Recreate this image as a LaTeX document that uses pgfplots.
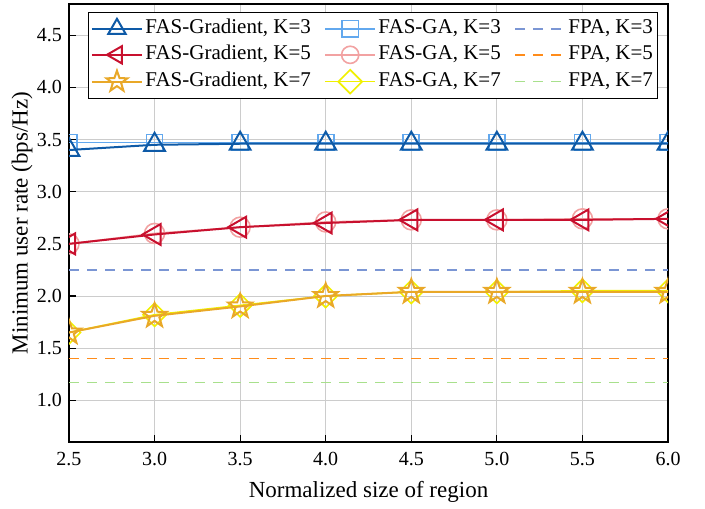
\documentclass[border=0pt]{standalone}
\usepackage{pgfplots}
\pgfplotsset{compat=1.18}
\usepackage{fontspec}
\setmainfont{Liberation Serif}
\usetikzlibrary{calc}
\definecolor{gb}{HTML}{0E5AA7}
\definecolor{gab}{HTML}{62A8EE}
\definecolor{gr}{HTML}{C8102E}
\definecolor{gar}{HTML}{F2A2A2}
\definecolor{gy}{HTML}{E9A828}
\definecolor{gay}{HTML}{F0F000}
\definecolor{fb}{HTML}{7B96D4}
\definecolor{fo}{HTML}{FF8C1A}
\definecolor{fg}{HTML}{A8E08C}
\pgfdeclareplotmark{ostar}{%
  \pgfpathmoveto{\pgfpointpolar{90}{\pgfplotmarksize}}%
  \pgfpathlineto{\pgfpointpolar{126}{0.4\pgfplotmarksize}}%
  \pgfpathlineto{\pgfpointpolar{162}{\pgfplotmarksize}}%
  \pgfpathlineto{\pgfpointpolar{198}{0.4\pgfplotmarksize}}%
  \pgfpathlineto{\pgfpointpolar{234}{\pgfplotmarksize}}%
  \pgfpathlineto{\pgfpointpolar{270}{0.4\pgfplotmarksize}}%
  \pgfpathlineto{\pgfpointpolar{306}{\pgfplotmarksize}}%
  \pgfpathlineto{\pgfpointpolar{342}{0.4\pgfplotmarksize}}%
  \pgfpathlineto{\pgfpointpolar{18}{\pgfplotmarksize}}%
  \pgfpathlineto{\pgfpointpolar{54}{0.4\pgfplotmarksize}}%
  \pgfpathclose\pgfusepathqstroke}
\begin{document}
\begin{tikzpicture}
\begin{axis}[name=ax, scale only axis, width=299.5pt, height=219pt,
  xmin=2.5, xmax=6, ymin=0.6, ymax=4.8,
  xtick={2.5,3,3.5,4,4.5,5,5.5,6},
  ytick={1,1.5,2,2.5,3,3.5,4,4.5},
  grid=major, grid style={color=black!20, line width=0.5pt},
  tick align=inside, xtick pos=bottom, ytick pos=left,
  major tick length=3.5pt,
  axis line style={line width=0.8pt},
  tick style={black, line width=0.6pt},
  clip marker paths=true,
  /pgf/number format/assume math mode=true,
  ticklabel style={font=\fontsize{10}{12}\selectfont},
  xticklabel style={yshift=-1.5pt, /pgf/number format/.cd, fixed, fixed zerofill, precision=1},
  yticklabel style={/pgf/number format/.cd, fixed, fixed zerofill, precision=1},
  xlabel={Normalized size of region},
  ylabel={Minimum user rate (bps/Hz)},
  label style={font=\fontsize{11.5}{13}\selectfont},
  xlabel style={at={(axis description cs:0.5,-0.114)}, anchor=center},
  ylabel style={at={(axis description cs:-0.0785,0.5)}, anchor=center},
  legend columns=3,
  legend style={at={(0.9833,0.981)}, anchor=north east, draw=black, line width=0.5pt,
    font=\fontsize{10.5}{12}\selectfont, column sep=0pt, row sep=2pt,
    inner xsep=1pt, inner ysep=2.5pt,
    /tikz/every even column/.append style={column sep=5.5pt},
    nodes={inner xsep=1.25pt, inner ysep=0.5pt, text height=7.5pt, text depth=2.5pt}},
  legend cell align=left,
  legend image code/.code={\draw[mark repeat=2,mark phase=2] plot coordinates {(0cm,0cm)(12.5pt,0cm)(25pt,0cm)};},
]
\addlegendimage{gb, line width=1pt, mark=triangle, mark size=5pt}
\addlegendentry{FAS-Gradient, K=3}
\addlegendimage{gab, line width=0.8pt, mark=square, mark size=4.2pt}
\addlegendentry{FAS-GA, K=3}
\addlegendimage{fb, line width=0.8pt, dash pattern=on 5pt off 4pt}
\addlegendentry{FPA, K=3}
\addlegendimage{gr, line width=1pt, mark=triangle, mark size=5pt, mark options={rotate=90}}
\addlegendentry{FAS-Gradient, K=5}
\addlegendimage{gar, line width=0.8pt, mark=o, mark size=4.3pt}
\addlegendentry{FAS-GA, K=5}
\addlegendimage{fo, line width=0.8pt, dash pattern=on 5pt off 4pt}
\addlegendentry{FPA, K=5}
\addlegendimage{gy, line width=1pt, mark=ostar, mark size=5.5pt}
\addlegendentry{FAS-Gradient, K=7}
\addlegendimage{gay, line width=0.8pt, mark=square, mark size=4.2pt, mark options={rotate=45}}
\addlegendentry{FAS-GA, K=7}
\addlegendimage{fg, line width=0.8pt, dash pattern=on 5pt off 4pt}
\addlegendentry{FPA, K=7}
% FPA
\addplot[forget plot, fb, line width=0.8pt, dash pattern=on 5pt off 4pt] coordinates {(2.5,2.25)(6,2.25)};
\addplot[forget plot, fo, line width=0.8pt, dash pattern=on 5pt off 4pt] coordinates {(2.5,1.40)(6,1.40)};
\addplot[forget plot, fg, line width=0.8pt, dash pattern=on 5pt off 4pt] coordinates {(2.5,1.17)(6,1.17)};
% GA
\addplot[forget plot, gab, line width=0.8pt, mark=square, mark size=4pt] coordinates {(2.5,3.47)(3,3.47)(3.5,3.47)(4,3.47)(4.5,3.47)(5,3.47)(5.5,3.47)(6,3.47)};
\addplot[forget plot, gar, line width=0.8pt, mark=o, mark size=5pt] coordinates {(2.5,2.50)(3,2.60)(3.5,2.66)(4,2.71)(4.5,2.73)(5,2.73)(5.5,2.74)(6,2.74)};
\addplot[forget plot, gay, line width=0.8pt, mark=square, mark size=4.1pt, mark options={rotate=45}] coordinates {(2.5,1.65)(3,1.82)(3.5,1.91)(4,2.00)(4.5,2.04)(5,2.04)(5.5,2.05)(6,2.05)};
% Gradient
\addplot[forget plot, gb, line width=1pt, mark=triangle, mark size=6pt] coordinates {(2.5,3.40)(3,3.45)(3.5,3.46)(4,3.46)(4.5,3.46)(5,3.46)(5.5,3.46)(6,3.46)};
\addplot[forget plot, gr, line width=1pt, mark=triangle, mark size=6pt, mark options={rotate=90}] coordinates {(2.5,2.50)(3,2.59)(3.5,2.66)(4,2.70)(4.5,2.73)(5,2.73)(5.5,2.73)(6,2.74)};
\addplot[forget plot, gy, line width=1pt, mark=ostar, mark size=6.3pt] coordinates {(2.5,1.65)(3,1.81)(3.5,1.90)(4,2.00)(4.5,2.04)(5,2.04)(5.5,2.04)(6,2.04)};
\end{axis}
\pgfresetboundingbox
\path ($(ax.south west)+(-34.5pt,-33pt)$) rectangle ($(ax.north east)+(18.5pt,2pt)$);
\end{tikzpicture}
\end{document}
